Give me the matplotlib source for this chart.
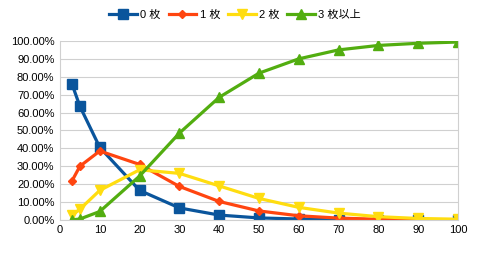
import matplotlib.pyplot as plt
from matplotlib.ticker import FuncFormatter

plt.rcParams['font.family'] = ['Liberation Sans', 'Noto Sans CJK JP', 'DejaVu Sans']

x = [3, 5, 10, 20, 30, 40, 50, 60, 70, 80, 90, 100]
zero = [76.0, 63.5, 40.5, 16.5, 6.7, 2.7, 1.1, 0.5, 0.2, 0.1, 0.0, 0.0]
one = [21.7, 30.0, 38.5, 31.0, 18.7, 10.3, 5.0, 2.3, 1.0, 0.4, 0.2, 0.1]
two = [2.5, 6.0, 16.5, 28.0, 26.0, 19.0, 12.0, 7.0, 3.8, 1.8, 0.8, 0.4]
three = [0.0, 0.5, 4.7, 24.5, 48.5, 68.5, 82.0, 90.0, 95.0, 97.5, 98.7, 99.4]

labels = ['0 枚', '1 枚', '2 枚', '3 枚以上']
colors = ['#0a559c', '#ff4510', '#ffdd10', '#52ad10']
markers = ['s', 'D', 'v', '^']
msizes = [6.5, 4.5, 6.5, 6.5]

fig = plt.figure(figsize=(4.8, 2.56), dpi=100)
ax = fig.add_axes([0.125, 0.141, 0.829, 0.699])

for ys, lab, c, m, ms in zip([zero, one, two, three], labels, colors, markers, msizes):
    ax.plot(x, ys, color=c, marker=m, markersize=ms, linewidth=2.3, label=lab)

ax.set_xlim(0, 100)
ax.set_ylim(0, 100)
ax.set_xticks(range(0, 101, 10))
ax.set_yticks(range(0, 101, 10))
ax.yaxis.set_major_formatter(FuncFormatter(lambda v, p: f'{v:.2f}%'))
ax.tick_params(length=0, labelsize=8, pad=4)
ax.grid(axis='y', color='#d0d0d0', linewidth=0.8)
ax.set_axisbelow(True)
ax.spines['top'].set_visible(False)
for s in ['left', 'right', 'bottom']:
    ax.spines[s].set_color('#d0d0d0')
    ax.spines[s].set_linewidth(0.8)

fig.legend(loc='upper center', bbox_to_anchor=(0.49, 1.0), ncol=4, frameon=False,
           fontsize=8, handlelength=2.5, handletextpad=0.3, columnspacing=0.7)

fig.savefig('out.png', dpi=100)
